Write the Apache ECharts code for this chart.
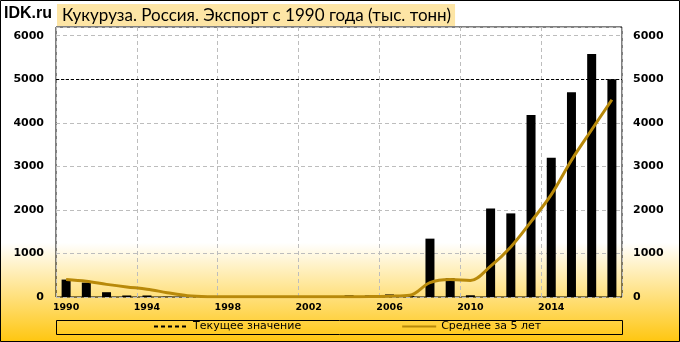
<!DOCTYPE html>
<html><head><meta charset="utf-8">
<script src="https://cdn.jsdelivr.net/npm/echarts@6/dist/echarts.min.js"></script>
<style>html,body{margin:0;padding:0;background:#fff}#c{width:680px;height:342px}</style>
</head><body><div id="c"></div>
<script>
const years = ['1990','1991','1992','1993','1994','1995','1996','1997','1998','1999','2000','2001','2002','2003','2004','2005','2006','2007','2008','2009','2010','2011','2012','2013','2014','2015','2016','2017'];
const exportValues = [400,330,110,35,35,5,0,0,0,0,0,0,0,0,40,35,60,20,1340,430,40,2030,1920,4180,3200,4700,5580,5000];
const avg5Values = [400,360,290,230,180,100,30,8,5,5,5,5,5,5,8,10,20,40,330,400,380,710,1150,1730,2350,3140,3840,4530];
const currentValue = 5000;
const titleText = 'Кукуруза. Россия. Экспорт с 1990 года (тыс. тонн)';
const siteText = 'IDK.ru';
const seriesNames = ['Текущее значение','Среднее за 5 лет','Экспорт'];

const chart = echarts.init(document.getElementById('c'), null, {renderer:'canvas'});
const yLabelStyle = {color:'#000', fontFamily:'DejaVu Sans', fontWeight:'bold', fontSize:11, formatter:function(v){return String(v);}};
chart.setOption({
  animation:false,
  backgroundColor:{type:'linear',x:0,y:0,x2:0,y2:1,colorStops:[
    {offset:0,color:'#FFFFFF'},{offset:0.71,color:'#FFFFFF'},{offset:1,color:'#FFC60F'}]},
  title:[
    {text:siteText,left:4,top:6,padding:0,textStyle:{fontFamily:'Liberation Sans',fontWeight:'bold',fontSize:16,color:'#000'}},
    {text:titleText,left:57,top:4,padding:[3,4,2,5],backgroundColor:'#FDE5A5',
     textStyle:{fontFamily:'Lato',fontWeight:'normal',fontSize:17,color:'#000'}}
  ],
  graphic:[
    {type:'rect',shape:{x:0.5,y:0.5,width:679,height:341},style:{fill:'none',stroke:'#000',lineWidth:1},silent:true,z:100},
    {type:'rect',shape:{x:56.5,y:320.5,width:566,height:14},style:{fill:'none',stroke:'#000',lineWidth:1},silent:true,z:100}
  ],
  legend:{
    data:[seriesNames[0],seriesNames[1]],
    left:153, top:321, itemWidth:34, itemHeight:14, itemGap:100, padding:0,
    itemStyle:{opacity:0},
    textStyle:{fontFamily:'DejaVu Sans',fontSize:11,color:'#000'}
  },
  grid:{left:56,right:58,top:27,bottom:45,show:true,borderColor:'#000',borderWidth:1,backgroundColor:'transparent'},
  xAxis:{
    type:'category', data:years, boundaryGap:true,
    axisLine:{show:false}, axisTick:{show:false,interval:3},
    axisLabel:{interval:3,margin:6,color:'#000',fontFamily:'DejaVu Sans',fontWeight:'bold',fontSize:9.5},
    splitLine:{show:true,interval:3,lineStyle:{color:'#BDBDBD',type:[4,3],width:1}}
  },
  yAxis:[
    {type:'value',min:0,max:6200,interval:1000,position:'left',
     axisLine:{show:false},axisTick:{show:false},
     axisLabel:Object.assign({margin:12,showMaxLabel:false},yLabelStyle),
     splitLine:{show:true,lineStyle:{color:'#BDBDBD',type:[4,3],width:1}}},
    {type:'value',min:0,max:6200,interval:1000,position:'right',
     axisLine:{show:false},axisTick:{show:false},
     axisLabel:Object.assign({margin:11,showMaxLabel:false},yLabelStyle),
     splitLine:{show:false}}
  ],
  series:[
    {name:seriesNames[2],type:'bar',data:exportValues,barWidth:9,itemStyle:{color:'#000'},z:2},
    {name:seriesNames[1],type:'line',data:avg5Values,smooth:0.35,symbol:'none',
     lineStyle:{color:'#B8890A',width:3},itemStyle:{color:'#B8890A'},z:4},
    {name:seriesNames[0],type:'line',data:[],symbol:'none',
     lineStyle:{color:'#000',width:1,type:[4,3]},itemStyle:{color:'#000'},
     markLine:{silent:true,symbol:['none','none'],label:{show:false},
       lineStyle:{color:'#000',width:1,type:[3,2]},data:[{yAxis:currentValue}]},z:3}
  ]
});
</script></body></html>
